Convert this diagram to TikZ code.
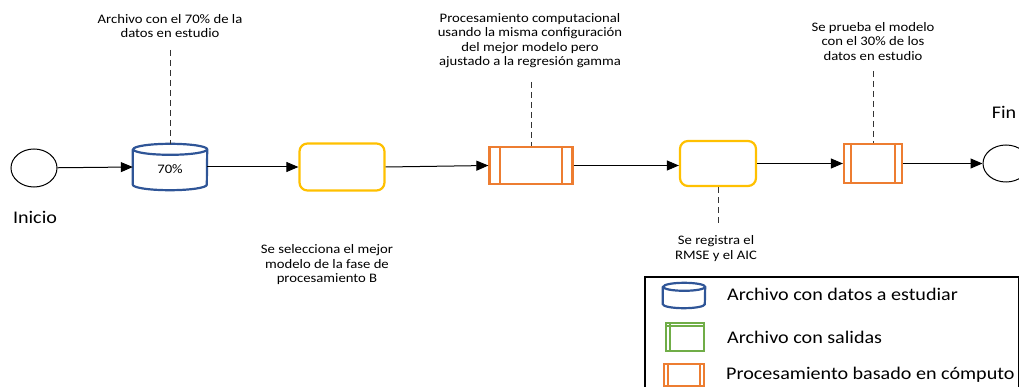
\documentclass[tikz,border=0pt]{standalone}
\usepackage{fontspec}
\setmainfont[FakeStretch=1.13]{Carlito}
\usetikzlibrary{arrows.meta,shapes.geometric}
\definecolor{cblue}{HTML}{2F5597}
\definecolor{cyel}{HTML}{FFC000}
\definecolor{corg}{HTML}{ED7D31}
\definecolor{cgrn}{HTML}{70AD47}
\tikzset{
  ev/.style={draw=black,ellipse,minimum width=46pt,minimum height=38pt,inner sep=0pt,line width=1pt},
  task/.style={draw=cyel,rounded corners=8pt,line width=2.2pt,inner sep=0pt},
  flow/.style={line width=1pt,-{Triangle[length=12pt,width=10pt]}},
  note/.style={dash pattern=on 6pt off 4pt,line width=1pt,draw=black!80},
  ann/.style={align=center,font=\fontsize{13}{14.5}\selectfont,text=black,inner sep=0pt},
  big/.style={font=\fontsize{17.8}{19}\selectfont,inner sep=0pt,text=black},
  dbline/.style={draw=cblue,line width=2.2pt},
}
\newcommand{\procbox}[6]{% name, cx, cy, w, h, inset
  \node[draw=corg,line width=2.2pt,minimum width=#4,minimum height=#5,inner sep=0pt] (#1) at (#2,#3) {};
  \draw[corg,line width=2pt] ([xshift=#6]#1.north west) -- ([xshift=#6]#1.south west);
  \draw[corg,line width=2pt] ([xshift=-#6]#1.north east) -- ([xshift=-#6]#1.south east);
}
% name, cx, cy, w, h, ry
\newcommand{\dbshape}[6]{%
  \node[minimum width=#4,minimum height=#5,inner sep=0pt] (#1) at (#2,#3) {};
  \draw[dbline] ([yshift=-#6]#1.north west) -- ([yshift=#6]#1.south west)
     arc[start angle=180,end angle=360,x radius=#4/2,y radius=#6]
     -- ([yshift=-#6]#1.north east)
     arc[start angle=0,end angle=180,x radius=#4/2,y radius=#6]
     arc[start angle=180,end angle=360,x radius=#4/2,y radius=#6];
}
\begin{document}
\begin{tikzpicture}[x=1pt,y=-1pt]
\useasboundingbox (0,0) rectangle (1019,387);
% start
\node[ev] (ini) at (34,168) {};
\node[big] (inil) at (35,217) {Inicio};
% cylinder
\dbshape{cyl}{170}{167}{74pt}{46pt}{5.5pt}
\node[font=\fontsize{13}{14}\selectfont] (cylt) at (170,169) {70\%};
\node[ann] (t1) at (170,26) {Archivo con el 70\% de la\\datos en estudio};
\coordinate (c1) at (170,50);
\draw[note] (c1) -- (cyl.north);
% task 1
\node[task,minimum width=85pt,minimum height=47pt] (y1) at (342,167) {};
\node[ann] (t2) at (327,265) {Se selecciona el mejor\\modelo de la fase de\\procesamiento B};
% proc 1
\procbox{p1}{531}{165.5}{83pt}{37pt}{12pt}
\node[ann] (t3) at (530,40.5) {Procesamiento computacional\\usando la misma configuración\\del mejor modelo pero\\ajustado a la regresión gamma};
\coordinate (c3) at (531,82);
\draw[note] (c3) -- (p1.north);
% task 2
\node[task,minimum width=76pt,minimum height=45pt] (y2) at (718,163.5) {};
\coordinate (c4) at (718,227);
\draw[note] (y2.south) -- (c4);
\node[ann] (t4) at (716,248.5) {Se registra el\\RMSE y el AIC};
% proc 2
\procbox{p2}{873}{163.5}{58pt}{39pt}{8pt}
\coordinate (c5) at (873,71);
\draw[note] (c5) -- (p2.north);
\node[ann] (t5) at (873,41.5) {Se prueba el modelo\\con el 30\% de los\\datos en estudio};
% end
\node[ev,minimum height=37pt] (fin) at (1006,163.5) {};
\node[big] (finl) at (1004,112) {Fin};
% flows
\draw[flow] (ini) -- (cyl.west);
\draw[flow] (cyl.east) -- (y1.west);
\draw[flow] (y1.east) -- (p1.west);
\draw[flow] (p1.east) -- (p1.east -| y2.west);
\draw[flow] (y2) -- (p2);
\draw[flow] (p2) -- (fin);
% legend
\node[draw=black,line width=2.2pt,minimum width=374pt,minimum height=116pt,inner sep=0pt,anchor=north west] (leg) at (644,276) {};
\dbshape{lc}{684}{295.5}{42pt}{25pt}{4pt}
\node[big,anchor=west] (l1) at (727,294) {Archivo con datos a estudiar};
\node[draw=cgrn,line width=2pt,minimum width=38pt,minimum height=28pt,inner sep=0pt] (lg) at (685,337) {};
\draw[cgrn,line width=1.5pt] ([xshift=5pt]lg.north west) -- ([xshift=5pt]lg.south west);
\draw[cgrn,line width=1.5pt] ([yshift=-4pt]lg.north west) -- ([yshift=-4pt]lg.north east);
\node[big,anchor=west] (l2) at (727,337) {Archivo con salidas};
\procbox{lo}{684}{375}{40pt}{22pt}{5pt}
\node[big,anchor=west] (l3) at (726,375) {Procesamiento basado en cómputo};
\end{tikzpicture}
\end{document}
